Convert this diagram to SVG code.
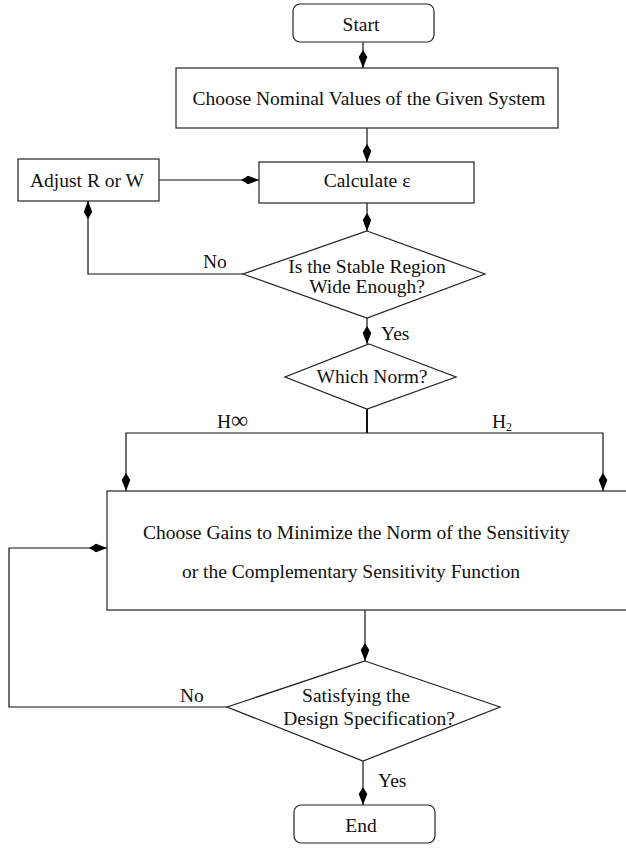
<svg xmlns="http://www.w3.org/2000/svg" width="626" height="848" viewBox="0 0 626 848">
<style>
.box{fill:#fff;stroke:#222;stroke-width:1.2}
.ln{fill:none;stroke:#111;stroke-width:1.2}
text{font-family:"Liberation Serif","Times New Roman",serif;font-size:19.5px;fill:#111}
.c{text-anchor:middle}
</style>
<defs>
<marker id="kite" viewBox="-19 -5 20 10" markerWidth="20" markerHeight="10" refX="0" refY="0" orient="auto" markerUnits="userSpaceOnUse">
<path d="M0,0 L-11,-4.3 L-18,0 L-11,4.3 Z" fill="#000"/>
</marker>
</defs>
<rect width="626" height="848" fill="#fff"/>
<g id="connectors">
<path class="ln" d="M363,42 V68" marker-end="url(#kite)"/>
<path class="ln" d="M367,128 V162" marker-end="url(#kite)"/>
<path class="ln" d="M159,180 H259" marker-end="url(#kite)"/>
<path class="ln" d="M367,203 V231" marker-end="url(#kite)"/>
<path class="ln" d="M243,274 H88 V201" marker-end="url(#kite)"/>
<path class="ln" d="M367,318 V344" marker-end="url(#kite)"/>
<path class="ln" d="M367,409 V433" style="stroke-width:2"/>
<path class="ln" d="M367,433 H126 V491" marker-end="url(#kite)"/>
<path class="ln" d="M367,433 H603 V491" marker-end="url(#kite)"/>
<path class="ln" d="M365,610 V661" marker-end="url(#kite)"/>
<path class="ln" d="M227,707 H9 V548 H107" marker-end="url(#kite)"/>
<path class="ln" d="M363,761 V805" marker-end="url(#kite)"/>
<text x="203" y="268">No</text>
<text x="381" y="340">Yes</text>
<text x="217" y="428">H<tspan font-size="24">∞</tspan></text>
<text x="492" y="428">H<tspan font-size="12" dy="3">2</tspan></text>
<text x="180" y="702">No</text>
<text x="378" y="787">Yes</text>
</g>
<g id="start">
<rect class="box" x="293" y="4" width="141" height="38" rx="7"/>
<text class="c" x="361" y="31">Start</text>
</g>
<g id="nominal">
<rect class="box" x="176" y="68" width="382" height="60"/>
<text class="c" x="369" y="105">Choose Nominal Values of the Given System</text>
</g>
<g id="adjust">
<rect class="box" x="18" y="159" width="141" height="42"/>
<text class="c" x="87" y="187">Adjust R or W</text>
</g>
<g id="calculate">
<rect class="box" x="259" y="162" width="215" height="41"/>
<text class="c" x="367" y="187">Calculate ε</text>
</g>
<g id="stable">
<polygon class="box" points="367,231 485,274 367,318 243,274"/>
<text class="c" x="367" y="273">Is the Stable Region</text>
<text class="c" x="367" y="293">Wide Enough?</text>
</g>
<g id="norm">
<polygon class="box" points="369,344 456,377 367,409 285,377"/>
<text class="c" x="372" y="383">Which Norm?</text>
</g>
<g id="gains">
<rect class="box" x="107" y="491" width="530" height="119"/>
<text x="143" y="539">Choose Gains to Minimize the Norm of the Sensitivity</text>
<text x="182" y="578">or the Complementary Sensitivity Function</text>
</g>
<g id="satisfy">
<polygon class="box" points="365,661 500,707 363,761 227,707"/>
<text class="c" x="356" y="702">Satisfying the</text>
<text class="c" x="369" y="725">Design Specification?</text>
</g>
<g id="end">
<rect class="box" x="294" y="805" width="141" height="38" rx="7"/>
<text class="c" x="361" y="832">End</text>
</g>
</svg>
